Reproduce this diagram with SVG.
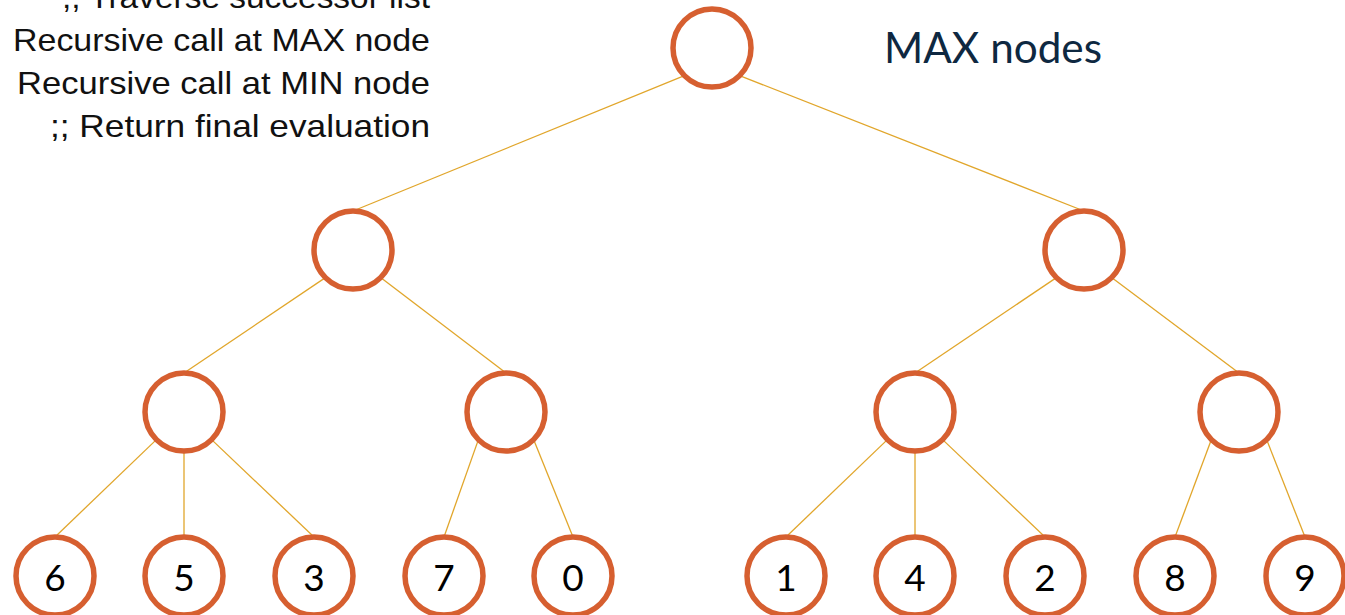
<svg xmlns="http://www.w3.org/2000/svg" width="1345" height="615" viewBox="0 0 1345 615">
  <defs>
    <style>
      .node { fill: #ffffff; stroke: #D65F30; stroke-width: 5.5; }
      .edge { stroke: #E1A62B; stroke-width: 1.3; fill: none; }
      .code { font-family: "Liberation Sans", Arial, sans-serif; font-size: 32px; fill: #111111; text-anchor: end; }
      .val { font-family: Lato, "Open Sans", sans-serif; font-size: 37px; fill: #000000; text-anchor: middle; }
      .label { font-family: Lato, "Open Sans", sans-serif; font-size: 42px; fill: #0E2841; }
    </style>
  </defs>
  <rect width="1345" height="615" fill="#ffffff"/>

  <!-- pseudocode comments -->
  <g id="code">
    <text class="code" x="430" y="8" textLength="368" lengthAdjust="spacingAndGlyphs">;; Traverse successor list</text>
    <text class="code" x="430" y="51" textLength="417" lengthAdjust="spacingAndGlyphs">Recursive call at MAX node</text>
    <text class="code" x="430" y="94" textLength="413" lengthAdjust="spacingAndGlyphs">Recursive call at MIN node</text>
    <text class="code" x="430" y="137" textLength="380" lengthAdjust="spacingAndGlyphs">;; Return final evaluation</text>
  </g>

  <text id="max-label" class="label" x="884" y="63" textLength="218" lengthAdjust="spacingAndGlyphs">MAX nodes</text>

  <!-- connectors: parent connection point to child top -->
  <g id="edges">
    <line class="edge" x1="684.4" y1="75.6" x2="353" y2="211"/>
    <line class="edge" x1="739.6" y1="75.6" x2="1084" y2="211"/>

    <line class="edge" x1="325.4" y1="277.6" x2="184" y2="373"/>
    <line class="edge" x1="380.6" y1="277.6" x2="506" y2="373"/>
    <line class="edge" x1="1056.4" y1="277.6" x2="915" y2="373"/>
    <line class="edge" x1="1111.6" y1="277.6" x2="1239" y2="373"/>

    <line class="edge" x1="156.4" y1="439.6" x2="55" y2="537"/>
    <line class="edge" x1="184" y1="451" x2="184" y2="537"/>
    <line class="edge" x1="211.6" y1="439.6" x2="314" y2="537"/>

    <line class="edge" x1="478.4" y1="439.6" x2="444" y2="537"/>
    <line class="edge" x1="533.6" y1="439.6" x2="573" y2="537"/>

    <line class="edge" x1="887.4" y1="439.6" x2="786" y2="537"/>
    <line class="edge" x1="915" y1="451" x2="915" y2="537"/>
    <line class="edge" x1="942.6" y1="439.6" x2="1045" y2="537"/>

    <line class="edge" x1="1211.4" y1="439.6" x2="1175" y2="537"/>
    <line class="edge" x1="1266.6" y1="439.6" x2="1305" y2="537"/>
  </g>

  <!-- MAX root -->
  <g id="root"><circle class="node" cx="712" cy="48" r="39"/></g>

  <!-- MIN level -->
  <g id="min-left"><circle class="node" cx="353" cy="250" r="39"/></g>
  <g id="min-right"><circle class="node" cx="1084" cy="250" r="39"/></g>

  <!-- MAX level -->
  <g id="max-a"><circle class="node" cx="184" cy="412" r="39"/></g>
  <g id="max-b"><circle class="node" cx="506" cy="412" r="39"/></g>
  <g id="max-c"><circle class="node" cx="915" cy="412" r="39"/></g>
  <g id="max-d"><circle class="node" cx="1239" cy="412" r="39"/></g>

  <!-- leaf evaluations -->
  <g id="leaf-6"><circle class="node" cx="55" cy="576" r="39"/><text class="val" x="55" y="591">6</text></g>
  <g id="leaf-5"><circle class="node" cx="184" cy="576" r="39"/><text class="val" x="184" y="591">5</text></g>
  <g id="leaf-3"><circle class="node" cx="314" cy="576" r="39"/><text class="val" x="314" y="591">3</text></g>
  <g id="leaf-7"><circle class="node" cx="444" cy="576" r="39"/><text class="val" x="444" y="591">7</text></g>
  <g id="leaf-0"><circle class="node" cx="573" cy="576" r="39"/><text class="val" x="573" y="591">0</text></g>
  <g id="leaf-1"><circle class="node" cx="786" cy="576" r="39"/><text class="val" x="786" y="591">1</text></g>
  <g id="leaf-4"><circle class="node" cx="915" cy="576" r="39"/><text class="val" x="915" y="591">4</text></g>
  <g id="leaf-2"><circle class="node" cx="1045" cy="576" r="39"/><text class="val" x="1045" y="591">2</text></g>
  <g id="leaf-8"><circle class="node" cx="1175" cy="576" r="39"/><text class="val" x="1175" y="591">8</text></g>
  <g id="leaf-9"><circle class="node" cx="1305" cy="576" r="39"/><text class="val" x="1305" y="591">9</text></g>
</svg>
